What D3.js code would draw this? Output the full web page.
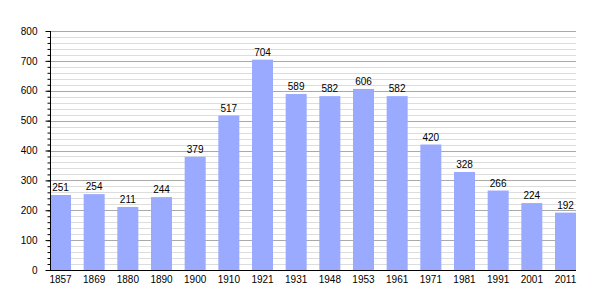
<!DOCTYPE html>
<html>
<head>
<meta charset="utf-8">
<script src="https://cdn.jsdelivr.net/npm/d3@7"></script>
<style>
  body { margin: 0; background: #fff; }
  text { font-family: "Liberation Sans", Arial, sans-serif; font-size: 10px; fill: #000; }
</style>
</head>
<body>
<svg id="chart" width="605" height="300"></svg>
<script>
  const years = ["1857","1869","1880","1890","1900","1910","1921","1931","1948","1953","1961","1971","1981","1991","2001","2011"]
  const population = [251, 254, 211, 244, 379, 517, 704, 589, 582, 606, 582, 420, 328, 266, 224, 192]
  const y_ticks = [0, 100, 200, 300, 400, 500, 600, 700, 800]

  let margin = {top: 31, right: 29, bottom: 30, left: 50}
  let width = 605, height = 300
  let svg = d3.select("#chart")

  let x = d3.scaleBand()
    .domain(years)
    .range([margin.left, width - margin.right])
    .paddingInner(0.376)
    .paddingOuter(0)

  let y = d3.scaleLinear()
    .domain([0, 800])
    .range([height - margin.bottom, margin.top])

  // minor grid every 20
  svg.append("g")
    .selectAll("line")
    .data(d3.range(20, 800, 20).filter(v => v % 100 != 0))
    .enter().append("line")
    .attr("x1", margin.left).attr("x2", width - margin.right)
    .attr("y1", d => Math.round(y(d)) + 0.5).attr("y2", d => Math.round(y(d)) + 0.5)
    .attr("stroke", "#dddddd")

  // major grid
  svg.append("g")
    .selectAll("line")
    .data(y_ticks.slice(1))
    .enter().append("line")
    .attr("x1", margin.left).attr("x2", width - margin.right)
    .attr("y1", d => Math.round(y(d)) + 0.5).attr("y2", d => Math.round(y(d)) + 0.5)
    .attr("stroke", "#aaaaaa")

  svg.append("g")
    .selectAll("rect")
    .data(population)
    .enter().append("rect")
    .attr("x", (d, i) => x(years[i]))
    .attr("width", x.bandwidth())
    .attr("y", d => y(d))
    .attr("height", d => y(0) - y(d))
    .attr("fill", "#99aaff")

  svg.append("g")
    .selectAll("text")
    .data(population)
    .enter().append("text")
    .attr("x", (d, i) => x(years[i]) + x.bandwidth() / 2)
    .attr("y", d => y(d) - 4)
    .attr("text-anchor", "middle")
    .text(d => d)

  // y axis: major ticks + minor ticks
  let y_minor = d3.axisLeft(y)
    .tickValues(d3.range(0, 801, 20))
    .tickSize(3)
    .tickFormat("")
  svg.append("g")
    .attr("transform", `translate(${margin.left + 0.5}, 0)`)
    .call(y_minor)
    .call(g => g.select(".domain").remove())
    .selectAll("line").attr("stroke", "#000")

  let y_axis = d3.axisLeft(y)
    .tickValues(y_ticks)
    .tickSize(5)
    .tickPadding(8)
  svg.append("g")
    .attr("transform", `translate(${margin.left + 0.5}, 0)`)
    .call(y_axis)
    .call(g => g.select(".domain").attr("d", `M0,${margin.top}V${y(0)}`).attr("stroke", "#000"))
    .call(g => g.selectAll("text").style("font-family", null).style("font-size", null))
    .attr("font-family", null).attr("font-size", null)

  let x_axis = d3.axisBottom(x).tickSize(0).tickPadding(5)
  svg.append("g")
    .attr("transform", `translate(0, ${y(0) + 0.5})`)
    .call(x_axis)
    .call(g => g.select(".domain").attr("d", `M${margin.left},0H${width - margin.right}`).attr("stroke", "#000"))
    .attr("font-family", null).attr("font-size", null)
</script>
</body>
</html>
